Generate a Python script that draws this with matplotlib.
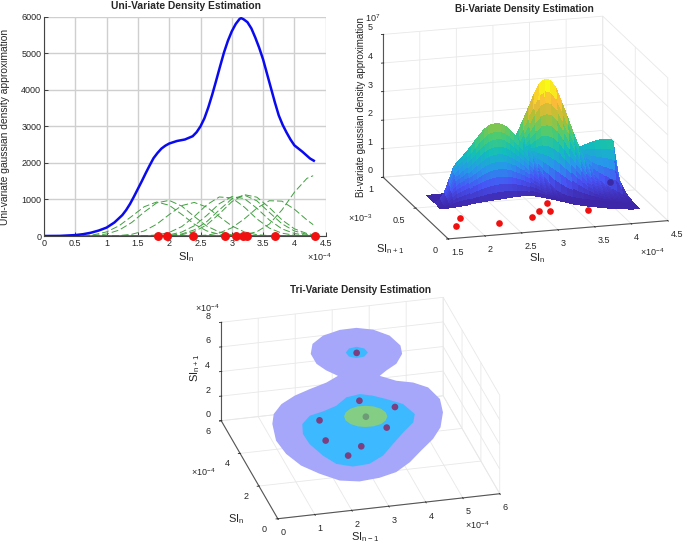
import numpy as np
import matplotlib
matplotlib.use("Agg")
import matplotlib.pyplot as plt
from matplotlib.colors import LinearSegmentedColormap
from mpl_toolkits.mplot3d.art3d import Poly3DCollection

plt.rcParams["font.family"] = ["Liberation Sans", "DejaVu Sans"]
plt.rcParams["mathtext.default"] = "regular"

# all x values in units of 1e-4
# panel 1
x_blue = [0, 0.25, 0.5, 0.625, 0.75, 0.875, 1, 1.125, 1.25, 1.3125, 1.375, 1.4375, 1.5, 1.5625, 1.625, 1.6875,
          1.75, 1.8125, 1.875, 1.9375, 2, 2.125, 2.25, 2.375, 2.4375, 2.5, 2.5625, 2.625, 2.6875, 2.75, 2.8125,
          2.875, 2.9375, 3, 3.0625, 3.125, 3.15, 3.1875, 3.25, 3.3125, 3.375, 3.4375, 3.5, 3.5625, 3.625, 3.6875,
          3.75, 3.8125, 3.875, 3.9375, 4, 4.125, 4.25, 4.31]
y_blue = [0, 3, 25, 50, 90, 150, 230, 370, 570, 710, 880, 1080, 1290, 1500, 1720, 1930,
          2130, 2270, 2390, 2470, 2530, 2600, 2640, 2730, 2840, 3000, 3220, 3520, 3870, 4250, 4640,
          5020, 5340, 5600, 5800, 5940, 5960, 5930, 5850, 5680, 5430, 5150, 4830, 4440, 4050, 3660,
          3300, 3040, 2830, 2640, 2480, 2310, 2120, 2060]
x_green = [0, 0.6, 0.8, 1, 1.2, 1.4, 1.6, 1.8, 2, 2.2, 2.4, 2.6, 2.8, 3, 3.2, 3.4, 3.6, 3.8, 4, 4.2, 4.3]
green_1 = [0, 9, 36, 113, 280, 536, 800, 930, 841, 592, 325, 139, 46, 12, 3, 1, 0, 0, 0, 0, 0]
green_2 = [0, 3, 15, 55, 161, 368, 654, 905, 975, 818, 535, 272, 108, 33, 8, 2, 0, 0, 0, 0, 0]
green_3 = [0, 0, 0, 2, 12, 46, 137, 322, 586, 832, 918, 791, 530, 276, 112, 36, 9, 2, 0, 0, 0]
green_4 = [0, 0, 0, 0, 0, 1, 6, 28, 97, 257, 531, 853, 1068, 1042, 791, 469, 216, 77, 22, 4, 2]
green_5 = [0, 0, 0, 0, 0, 0, 1, 8, 33, 108, 279, 562, 883, 1078, 1025, 760, 438, 196, 69, 19, 9]
green_6 = [0, 0, 0, 0, 0, 0, 0, 3, 15, 56, 167, 392, 713, 1012, 1118, 963, 645, 336, 137, 44, 22]
green_7 = [0, 0, 0, 0, 0, 0, 0, 1, 9, 36, 120, 304, 605, 938, 1131, 1062, 777, 443, 196, 68, 36]
green_8 = [0, 0, 0, 0, 0, 0, 0, 0, 0, 0, 5, 24, 83, 224, 467, 761, 965, 953, 733, 439, 310]
green_9 = [0, 0, 0, 0, 0, 0, 0, 0, 0, 0, 0, 0, 1, 7, 33, 117, 327, 710, 1198, 1577, 1650]
si_points = [1.816, 1.965, 2.38, 2.886, 3.06, 3.18, 3.25, 3.695, 4.33]

# panel 2, surface ridges read along the columns
surf_x = [1.8, 1.8625, 1.925, 1.9875, 2.05, 2.1125, 2.175, 2.2375, 2.3, 2.3625, 2.425, 2.4875, 2.55, 2.6125,
          2.675, 2.7375, 2.8, 2.8625, 2.925, 2.9875, 3.05, 3.1125, 3.175, 3.2375, 3.3, 3.3625, 3.425, 3.4875,
          3.55, 3.6125, 3.675, 3.7375, 3.8, 3.8625, 3.925, 3.9875, 4.05, 4.1125, 4.175, 4.2375, 4.3]
front_y = [.46, .46, .46, .465, .47, .475, .48, .49, .5, .505, .51, .515, .52, .525, .53, .535, .54, .545, .55, .55,
           .55, .54, .53, .505, .48, .45, .42, .39, .36, .34, .32, .305, .29, .275, .26, .25, .24, .23, .22, .215, .21]
back_y = [.665, .668, .67, .67, .67, .672, .675, .678, .68, .68, .68, .685, .69, .69, .69, .695, .70, .70, .70, .70,
          .70, .695, .69, .685, .68, .675, .67, .665, .66, .645, .63, .615, .60, .585, .57, .55, .53, .505, .48, .45, .42]
ridge_left = [.03, .15, .4, .8, 1.22, 1.40, 1.53, 1.67, 1.81, 2.0, 2.18, 2.34, 2.45, 2.51, 2.52, 2.48, 2.4, 2.26,
              2.08, 1.89, 1.69, 1.44, 1.17, .86, .58, .36, .19, .1, .05, .03, .02, .015, .01, .01, .01, .01, .01,
              .01, .01, .01, .01]
ridge_tall = [0, .005, .01, .015, .02, .03, .04, .06, .08, .11, .15, .21, .3, .41, .55, .72, .93, 1.2, 1.5, 1.8,
              2.1, 2.48, 2.9, 3.35, 3.72, 3.88, 3.85, 3.6, 3.16, 2.67, 2.16, 1.69, 1.27, .93, .66, .5, .37, .28,
              .2, .11, .05]
ridge_back = [.02, .02, .02, .02, .02, .025, .03, .04, .05, .065, .08, .1, .12, .145, .17, .21, .25, .285, .32, .37,
              .42, .48, .55, .62, .7, .78, .85, .92, 1.0, 1.1, 1.2, 1.3, 1.4, 1.5, 1.6, 1.7, 1.78, 1.84, 1.85, .5, .1]
row_t = [0, .035, .07, .105, .14, .175, .21, .245, .28, .315, .35,
         .385, .42, .455, .49, .525, .56, .595, .63, .665, .7,
         .76, .82, .88, .94, 1]
row_left = [0, .1, .2, .3, .4, .5, .6, .7, .8, .9, 1,
            .85, .65, .45, .3, .18, .1, .05, .02, 0, 0,
            0, 0, 0, 0, 0]
row_tall = [0, 0, 0, 0, 0, 0, 0, 0, 0, 0, 0,
            .1, .2, .3, .4, .5, .6, .7, .8, .9, 1,
            .8, .6, .4, .2, 0]
row_back = [0, 0, 0, 0, 0, 0, 0, 0, 0, 0, 0,
            0, 0, 0, 0, 0, 0, 0, 0, 0, 0,
            .2, .4, .6, .8, 1]
bi_x = [1.77, 1.93, 2.346, 2.84, 3.02, 3.144, 3.22, 3.64, 4.29]
bi_y = [.178, .303, .170, .2236, .309, .291, .4186, .258, .653]

# panel 3
outer_x = [4.32, 4.67, 5.07, 5.38, 5.51, 5.39, 5.11, 4.75, 4.28, 3.82, 3.33, 2.82, 2.26, 1.77, 1.36, 1.01,
           .80, .74, .89, 1.07, 1.41, 1.87, 2.35, 2.87, 3.26,
           2.32, 2.17, 2.17, 2.36, 2.75, 3.26, 3.71, 4.11, 4.44, 4.57, 4.49, 4.20, 3.85]
outer_y = [6.14, 5.75, 5.54, 5.16, 4.42, 3.63, 2.79, 2.17, 1.58, .98, .50, .28, .20, .38, .90, 1.49,
           2.26, 3.09, 4.07, 4.63, 5.15, 5.55, 5.83, 6.10, 6.41,
           3.97, 4.41, 5.02, 5.58, 5.99, 6.21, 6.22, 6.01, 5.56, 4.92, 4.43, 3.90, 3.58]
outer_z = [2] * 25 + [6] * 13
mid_x = [3.55, 3.86, 4.15, 4.50, 4.65, 4.49, 4.09, 3.66, 3.24, 2.77, 2.31, 1.93, 1.71, 1.54, 1.52, 1.65,
         1.96, 2.36, 2.78, 3.16]
mid_y = [5.22, 5.04, 4.76, 4.37, 3.72, 3.25, 2.74, 2.14, 1.54, 1.15, 1.10, 1.36, 1.92, 2.68, 3.30, 3.87,
         4.30, 4.46, 4.70, 5.12]
mid_z = [2] * 20
small_x = [3.64, 3.49, 3.27, 3.10, 3.08, 3.22, 3.44, 3.61]
small_y = [4.73, 4.52, 4.48, 4.62, 4.87, 5.08, 5.13, 4.98]
small_z = [6] * 8
core_x = [3.92, 3.82, 3.65, 3.43, 3.21, 3.02, 2.87, 2.80, 2.82, 2.92, 3.09, 3.31, 3.53, 3.72, 3.87, 3.94]
core_y = [3.76, 3.54, 3.36, 3.28, 3.29, 3.38, 3.56, 3.80, 4.04, 4.26, 4.44, 4.53, 4.51, 4.42, 4.24, 4.00]
core_z = [2] * 16
tri_x = [3.35, 3.44, 4.25, 3.37, 2.14, 3.74, 2.00, 2.82, 2.35]
tri_y = [4.78, 4.84, 4.25, 3.88, 3.97, 3.12, 2.77, 2.21, 1.76]
tri_z = [6, 2, 2, 2, 2, 2, 2, 2, 2]

parula = LinearSegmentedColormap.from_list("parula", [
    (.2422, .1504, .6603), (.2810, .3228, .9579), (.1540, .5902, .9218), (.0704, .7457, .7258),
    (.2906, .7968, .4500), (.7000, .7500, .2000), (.9800, .7300, .2300), (.9769, .9839, .0805)])

W, H = 685, 544
fig = plt.figure(figsize=(W / 100, H / 100), dpi=100)


def px_text(x, y, s, **kw):
    kw.setdefault("ha", "center")
    kw.setdefault("va", "center")
    kw.setdefault("fontsize", 7)
    kw.setdefault("color", "#262626")
    fig.text(x / W, 1 - y / H, s, **kw)


def style_3d(ax, xt, yt, zt):
    ax.set_proj_type("ortho")
    ax.patch.set_alpha(0)
    ax.computed_zorder = False
    ax.set_xticks(xt)
    ax.set_yticks(yt)
    ax.set_zticks(zt)
    ax.set_xlim(xt[0], xt[-1])
    ax.set_ylim(yt[0], yt[-1])
    ax.set_zlim(zt[0], zt[-1])
    for axis in (ax.xaxis, ax.yaxis, ax.zaxis):
        axis.set_pane_color((1, 1, 1, 0))
        axis.pane.set_edgecolor("#e8e8e8")
        axis._axinfo["grid"].update(color="#e8e8e8", linewidth=0.6)
        axis._axinfo["axisline"]["color"] = "#555555"
        axis._axinfo["tick"].update(color="#555555", inward_factor=0.1, outward_factor=0.03, linewidth={True: 0.6, False: 0.5})
        axis.line.set_color("#555555")
    ax.tick_params(labelsize=6.5, pad=-2, colors="#262626")


def shift_labels(ax, z_va):
    plt.setp(ax.get_xticklabels(), ha="left")
    plt.setp(ax.get_yticklabels(), ha="right")
    plt.setp(ax.get_zticklabels(), va=z_va)


# panel 1
ax1 = fig.add_axes([44 / W, 1 - 236 / H, (325.7 - 44) / W, (236 - 16.7) / H])
for g in (green_1, green_2, green_3, green_4, green_5, green_6, green_7, green_8, green_9):
    ax1.plot(x_green, g, color="#3f9f3f", lw=0.7, ls=(0, (7, 3)))
ax1.plot([0, 4.33], [0, 0], color="#1f8a1f", lw=1.2)
ax1.plot(x_blue, y_blue, color="#0a0af0", lw=1.8)
ax1.plot(si_points, [0] * 9, "o", color="#f01010", ms=5.4, clip_on=False, zorder=5)
ax1.set_xlim(0, 4.5)
ax1.set_ylim(0, 6000)
ax1.set_xticks([0, .5, 1, 1.5, 2, 2.5, 3, 3.5, 4, 4.5])
ax1.set_xticklabels(["0", "0.5", "1", "1.5", "2", "2.5", "3", "3.5", "4", "4.5"])
ax1.grid(True, color="#cfcfcf", lw=1)
ax1.set_axisbelow(True)
ax1.spines["top"].set_visible(False)
ax1.spines["right"].set_visible(False)
ax1.spines["left"].set_color("#444444")
ax1.spines["bottom"].set_color("#444444")
ax1.tick_params(direction="in", length=3, width=0.6, labelsize=6.5, pad=2, colors="#262626")
px_text(186, 6, "Uni-Variate Density Estimation", fontweight="bold", fontsize=7.4)
px_text(5.5, 127, "Uni-variate gaussian density approximation", rotation=90, fontsize=7.4)
px_text(186, 257, "SI$_n$", fontsize=8)
px_text(319, 257, r"$\times$10$^{-4}$", fontsize=6.5)

# panel 2
S2 = 346
ax2 = fig.add_axes([347.8 / W, 238.8 / H, S2 / W, S2 / H], projection="3d")
style_3d(ax2, [1.5, 2, 2.5, 3, 3.5, 4, 4.5], [0, .5, 1], [0, 1, 2, 3, 4, 5])
ax2.set_xticklabels(["1.5", "2", "2.5", "3", "3.5", "4", "4.5"])
ax2.set_yticklabels(["0", "0.5", "1"])
shift_labels(ax2, "bottom")
ax2.set_box_aspect((1, 1, .65))
ax2.view_init(elev=16.3, azim=-106.5)
t = np.array(row_t)
X2 = np.tile(surf_x, (len(row_t), 1))
Y2 = np.outer(1 - t, front_y) + np.outer(t, back_y)
Z2 = np.outer(row_left, ridge_left) + np.outer(row_tall, ridge_tall) + np.outer(row_back, ridge_back)
# last point shows through the surface in the original, so it goes on top in a dark tint
ax2.scatter(bi_x[:8], bi_y[:8], [0] * 8, s=23, c="#f01010", depthshade=False, zorder=1, linewidths=0)
ax2.plot_surface(X2, Y2, Z2, cmap=parula, vmin=0, vmax=3.7, rstride=1, cstride=1, linewidth=0,
                 antialiased=False, zorder=2, shade=False)
ax2.scatter(bi_x[8:], bi_y[8:], [0], s=23, c="#3a2aa8", depthshade=False, zorder=3, linewidths=0)
px_text(524, 9, "Bi-Variate Density Estimation", fontweight="bold", fontsize=7.2)
px_text(361, 107, "Bi-variate gaussian density approximation", rotation=90, fontsize=7.0)
px_text(373, 18, "10$^7$", fontsize=6.5)
px_text(360, 218, r"$\times$10$^{-3}$", fontsize=6.5)
px_text(652, 252, r"$\times$10$^{-4}$", fontsize=6.5)
px_text(537, 258, "SI$_n$", fontsize=8)
px_text(390, 249, "SI$_{n+1}$", fontsize=8)

# panel 3
S3 = 332
ax3 = fig.add_axes([190 / W, -34.5 / H, S3 / W, S3 / H], projection="3d")
style_3d(ax3, [0, 1, 2, 3, 4, 5, 6], [0, 2, 4, 6], [0, 2, 4, 6, 8])
shift_labels(ax3, "baseline")
ax3.set_box_aspect((1, 1, .479))
ax3.view_init(elev=26.2, azim=-104.3)
for xs, ys, zs, col, order in ((outer_x, outer_y, outer_z, "#a6a6fa", 1), (mid_x, mid_y, mid_z, "#3cb9ff", 2),
                               (small_x, small_y, small_z, "#3cb9ff", 2), (core_x, core_y, core_z, "#84cd84", 3)):
    poly = Poly3DCollection([list(zip(xs, ys, zs))], facecolors=col, edgecolors="none", zorder=order)
    ax3.add_collection3d(poly)
ax3.scatter(tri_x, tri_y, tri_z, s=23, c=["#7d3f7f", "#7d3f7f", "#7d3f7f", "#6e9a78"] + ["#7d3f7f"] * 5,
            depthshade=False, zorder=4, linewidths=0)
px_text(360, 290, "Tri-Variate Density Estimation", fontweight="bold", fontsize=7.2)
px_text(207, 308, r"$\times$10$^{-4}$", fontsize=6.5)
px_text(203, 472, r"$\times$10$^{-4}$", fontsize=6.5)
px_text(477, 525, r"$\times$10$^{-4}$", fontsize=6.5)
px_text(365, 537, "SI$_{n-1}$", fontsize=8)
px_text(236, 519, "SI$_n$", fontsize=8)
px_text(195, 368, "SI$_{n+1}$", rotation=90, fontsize=8)

fig.savefig("out.png", dpi=100)
